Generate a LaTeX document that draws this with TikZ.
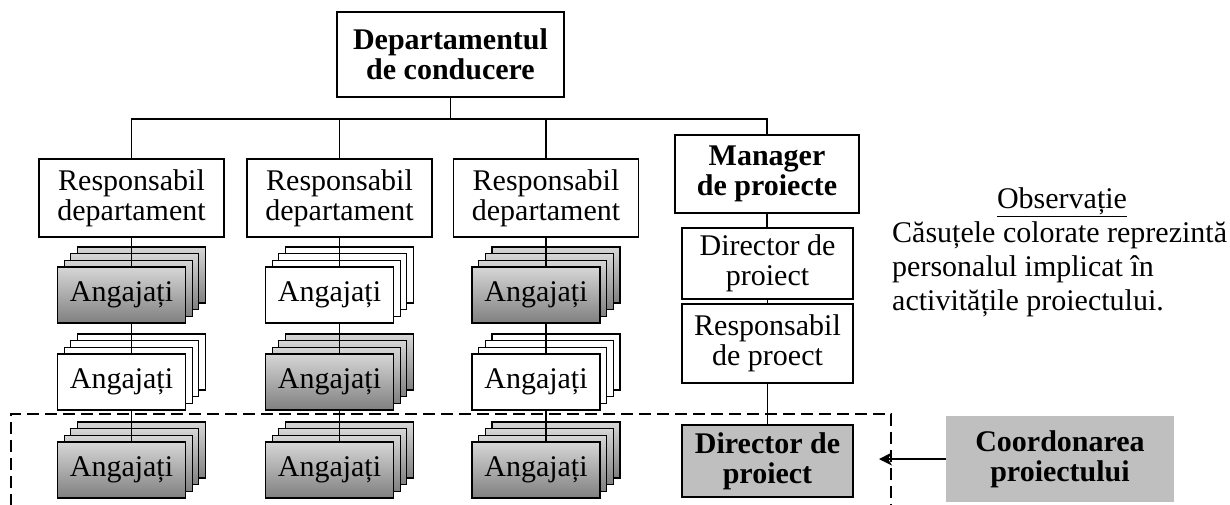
\documentclass[tikz,border=0pt]{standalone}
\usepackage{fontspec}
\setmainfont{Liberation Serif}
\usetikzlibrary{arrows.meta}

% a stack of four staff boxes: #1 name, #2 x of the connector, #3 y of the front box, #4 fill style
\newcommand{\staffstack}[4]{%
  \foreach \k in {3,2,1}{%
    \node[stackbox,#4] (#1-\k) at ({#2-10+6.67*\k},{#3-6.67*\k}) {};
  }
  \node[stackbox,#4] (#1) at ({#2-10},{#3}) {Angajați};
}

\begin{document}
\begin{tikzpicture}[x=1pt,y=-1pt,
  txt/.style={font=\fontsize{30}{30}\selectfont, align=center, inner sep=0pt},
  box/.style={txt, draw=black, line width=1.4pt, fill=white},
  boldbox/.style={box, font=\fontsize{30}{30}\selectfont\bfseries},
  stackbox/.style={txt, draw=black, line width=1.3pt, minimum width=128pt, minimum height=56pt},
  plain/.style={fill=white},
  shaded/.style={top color=black!16, bottom color=black!50},
  link/.style={draw=black, line width=1.3pt},
  respbox/.style={box, minimum width=185pt, minimum height=78pt}
]
\useasboundingbox (0,0) rectangle (1230,504);

% management
\node[boldbox, minimum width=227pt, minimum height=85pt] (top) at (450.5,54.5) {Departamentul\\de conducere};
\coordinate (trunk) at (450.5,119);

% department heads
\node[respbox] (r1) at (131.5,198) {Responsabil\\departament};
\node[respbox] (r2) at (339.5,198) {Responsabil\\departament};
\node[respbox] (r3) at (546,198) {Responsabil\\departament};

% project line
\node[boldbox, minimum width=184pt, minimum height=78pt] (mgr) at (767,174) {Manager\\de proiecte};
\node[box, minimum width=171pt, minimum height=71pt] (dir) at (767.5,263.5) {Director de\\proiect};
\node[box, minimum width=171pt, minimum height=79pt] (rp) at (767.5,343.5) {Responsabil\\de proect};
\node[boldbox, fill=black!25, minimum width=171pt, minimum height=72pt] (dirb) at (767.5,461) {Director de\\proiect};

% staff stacks
\staffstack{a11}{131.5}{295}{shaded}
\staffstack{a12}{131.5}{382}{plain}
\staffstack{a13}{131.5}{470}{shaded}
\staffstack{a21}{339.5}{295}{plain}
\staffstack{a22}{339.5}{382}{shaded}
\staffstack{a23}{339.5}{470}{shaded}
\staffstack{a31}{546}{295}{shaded}
\staffstack{a32}{546}{382}{plain}
\staffstack{a33}{546}{470}{shaded}

% tree connectors
\draw[link] (top.south) -- (top.south |- trunk);
\draw[link] (r1.north) -- (r1.north |- trunk) -- (mgr.north |- trunk) -- (mgr.north);
\draw[link] (r2.north) -- (r2.north |- trunk);
\draw[link] (r3.north) -- (r3.north |- trunk);

\foreach \c in {1,2,3}{
  \draw[link] (r\c.south) -- (r\c.south |- a\c1.north);
  \draw[link] (r\c.south |- a\c1.south) -- (r\c.south |- a\c2.north);
  \draw[link] (r\c.south |- a\c2.south) -- (r\c.south |- a\c3.north);
}
\draw[link] (mgr.south) -- (mgr.south |- dir.north);
\draw[link] (dir.south) -- (rp.north);
\draw[link] (rp.south) -- (dirb.north);

% coordination frame
\draw[line width=1.6pt, dash pattern=on 12pt off 6pt] (11,506) -- (11,414) -- (891,414) -- (891,506);

\node[txt, fill=black!25, font=\fontsize{30}{30}\selectfont\bfseries, minimum width=228pt, minimum height=86pt] (coord) at (1060,459) {Coordonarea\\proiectului};
\coordinate (tip) at (879,459);
\draw[link, line width=1.6pt, -{Stealth[length=13pt,width=13pt,inset=4pt]}] (coord.west) -- (tip);

% note
\node[txt, anchor=base] (obs) at (1062,208) {\underline{Observație}};
\node[txt, anchor=base west] (n1) at (892,242) {Căsuțele colorate reprezintă};
\node[txt, anchor=base west] (n2) at (892,276) {personalul implicat în};
\node[txt, anchor=base west] (n3) at (892,310) {activitățile proiectului.};
\end{tikzpicture}
\end{document}
